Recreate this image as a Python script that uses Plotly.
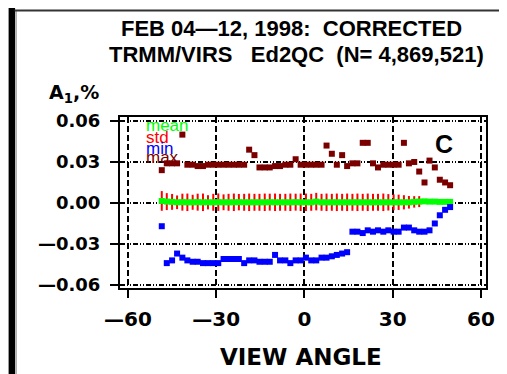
import plotly.graph_objects as go

# ---------------- data ----------------
angles = [-48.5, -46.8, -45.0, -43.3, -41.5, -39.8, -38.0, -36.3, -34.5, -32.8,
          -31.0, -29.3, -27.5, -25.8, -24.0, -22.3, -20.5, -18.8, -17.0, -15.3,
          -13.5, -11.8, -10.0, -8.3, -6.5, -4.8, -3.0, -1.3, 0.5, 2.3,
          4.0, 5.8, 7.5, 9.3, 11.0, 12.8, 14.5, 16.3, 18.0, 19.8,
          21.5, 23.3, 25.0, 26.8, 28.5, 30.3, 32.0, 33.8, 35.5, 37.3,
          39.0, 40.8, 42.5, 44.3, 46.0, 47.8, 49.5]

mean_vals = [0.0015, 0.0010, 0.0008, 0.0005, 0.0006, 0.0005, 0.0005, 0.0006, 0.0005, 0.0005,
             0.0005, 0.0006, 0.0005, 0.0005, 0.0005, 0.0006, 0.0005, 0.0005, 0.0005, 0.0005,
             0.0005, 0.0006, 0.0005, 0.0005, 0.0005, 0.0005, 0.0006, 0.0005, 0.0005, 0.0005,
             0.0010, 0.0005, 0.0005, 0.0005, 0.0005, 0.0005, 0.0005, 0.0005, 0.0005, 0.0005,
             0.0005, 0.0005, 0.0005, 0.0005, 0.0005, 0.0005, 0.0005, 0.0005, 0.0005, 0.0008,
             0.0010, 0.0012, 0.0010, 0.0010, 0.0008, 0.0008, 0.0008]

std_vals = [0.0072, 0.0062, 0.0058, 0.0050, 0.0062, 0.0064, 0.0055, 0.0062, 0.0064, 0.0052,
            0.0062, 0.0064, 0.0058, 0.0062, 0.0064, 0.0060, 0.0062, 0.0064, 0.0062, 0.0062,
            0.0064, 0.0062, 0.0064, 0.0062, 0.0062, 0.0064, 0.0062, 0.0064, 0.0064, 0.0062,
            0.0064, 0.0062, 0.0064, 0.0062, 0.0064, 0.0062, 0.0064, 0.0062, 0.0064, 0.0062,
            0.0064, 0.0062, 0.0062, 0.0064, 0.0060, 0.0058, 0.0056, 0.0052, 0.0046, 0.0042,
            0.0040, 0.0012, 0.0010, 0.0010, 0.0010, 0.0010, 0.0010]

min_vals = [-0.017, -0.044, -0.042, -0.037, -0.040, -0.042, -0.043, -0.043, -0.044, -0.044,
            -0.044, -0.044, -0.041, -0.041, -0.041, -0.041, -0.044, -0.042, -0.042, -0.043,
            -0.043, -0.043, -0.038, -0.042, -0.042, -0.044, -0.042, -0.042, -0.040, -0.042,
            -0.042, -0.040, -0.040, -0.039, -0.038, -0.037, -0.036, -0.021, -0.021, -0.022,
            -0.020, -0.021, -0.020, -0.021, -0.020, -0.021, -0.021, -0.018, -0.018, -0.020,
            -0.021, -0.021, -0.020, -0.015, -0.009, -0.005, -0.003]

max_vals = [0.024, 0.029, 0.029, 0.029, 0.050, 0.028, 0.028, 0.027, 0.027, 0.028,
            0.028, 0.028, 0.028, 0.028, 0.028, 0.028, 0.028, 0.039, 0.035, 0.026,
            0.026, 0.026, 0.027, 0.027, 0.028, 0.028, 0.032, 0.028, 0.028, 0.028,
            0.028, 0.028, 0.042, 0.036, 0.028, 0.035, 0.027, 0.029, 0.029, 0.044,
            0.044, 0.029, 0.026, 0.028, 0.028, 0.028, 0.028, 0.044, 0.029, 0.030,
            0.023, 0.015, 0.031, 0.026, 0.017, 0.015, 0.013]

x_ticks = [-60, -30, 0, 30, 60]
x_ticktext = ["<b>\u201460</b>", "<b>\u201430</b>", "<b>0</b>", "<b>30</b>", "<b>60</b>"]
y_ticks = [-0.06, -0.03, 0.0, 0.03, 0.06]
y_ticktext = ["<b>\u20140.06</b>", "<b>\u20140.03</b>", "<b>0.00</b>", "<b>0.03</b>", "<b>0.06</b>"]

legend_names = ["mean", "std", "min", "max"]
colors = {"mean": "#00ff00", "std": "#ff0000", "min": "#0000ff", "max": "#7a0000"}

# ---------------- layout geometry ----------------
# The page body keeps its default 8px margin, so the figure starts at screen (8, 8).
OFF = 8
W, H = 507 - OFF, 374 - OFF
SL, SR, ST, SB = 120, 488, 117, 288   # plot area in screen pixels
L, R, T, B = SL - OFF, SR - OFF, ST - OFF, SB - OFF


def px2x(sx):
    return (sx - OFF - L) / (R - L)


def py2y(sy):
    return (B - (sy - OFF)) / (B - T)


fig = go.Figure()

# std as vertical red ticks (error bars around mean)
fig.add_trace(go.Scatter(
    x=angles, y=mean_vals, mode="markers",
    marker=dict(size=1, color="rgba(0,0,0,0)"),
    error_y=dict(type="data", array=std_vals, visible=True,
                 color=colors["std"], thickness=2, width=0),
    showlegend=False, hoverinfo="skip"))

# mean
fig.add_trace(go.Scatter(
    x=angles, y=mean_vals, mode="lines+markers",
    line=dict(color=colors["mean"], width=4),
    marker=dict(symbol="square", size=6, color=colors["mean"]),
    showlegend=False))

# min
fig.add_trace(go.Scatter(
    x=angles, y=min_vals, mode="markers",
    marker=dict(symbol="square", size=6, color=colors["min"]),
    showlegend=False))

# max
fig.add_trace(go.Scatter(
    x=angles, y=max_vals, mode="markers",
    marker=dict(symbol="square", size=6, color=colors["max"]),
    showlegend=False))

fig.update_xaxes(
    range=[-62.7, 61.7], tickvals=x_ticks, ticktext=x_ticktext,
    ticks="outside", ticklen=8, tickwidth=2, tickcolor="black",
    showline=True, linecolor="black", linewidth=2, mirror=True,
    showgrid=True, gridcolor="black", gridwidth=1.5, griddash="6px,3px",
    zeroline=False, ticklabelstandoff=4,
    tickfont=dict(family="DejaVu Sans", size=20, color="black"))

fig.update_yaxes(
    range=[-0.0622, 0.0629], tickvals=y_ticks, ticktext=y_ticktext,
    ticks="outside", ticklen=8, tickwidth=2, tickcolor="black",
    showline=True, linecolor="black", linewidth=2, mirror=True,
    showgrid=True, gridcolor="black", gridwidth=1.5, griddash="5px,2px,1px,2px,1px,2px",
    zeroline=False, ticklabelstandoff=6,
    tickfont=dict(family="DejaVu Sans", size=18, color="black"))

annotations = []
annotations.append(dict(text="<b>FEB 04\u201412, 1998:  CORRECTED</b>", xref="paper", yref="paper",
                        x=px2x(292), y=py2y(28), showarrow=False, xanchor="center", yanchor="middle",
                        font=dict(family="Liberation Sans", size=22, color="black")))
annotations.append(dict(text="<b>TRMM/VIRS   Ed2QC  (N= 4,869,521)</b>", xref="paper", yref="paper",
                        x=px2x(297), y=py2y(55), showarrow=False, xanchor="center", yanchor="middle",
                        font=dict(family="Liberation Sans", size=22, color="black")))
annotations.append(dict(text="<b>VIEW ANGLE</b>", xref="paper", yref="paper",
                        x=px2x(302), y=py2y(357), showarrow=False, xanchor="center", yanchor="middle",
                        font=dict(family="DejaVu Sans", size=23, color="black")))
annotations.append(dict(text="<b>A<sub>1</sub>,%</b>", xref="paper", yref="paper",
                        x=px2x(47), y=py2y(93), showarrow=False, xanchor="left", yanchor="middle",
                        font=dict(family="DejaVu Sans", size=19, color="black")))
annotations.append(dict(text="<b>C</b>", xref="paper", yref="paper",
                        x=px2x(446), y=py2y(144), showarrow=False, xanchor="center", yanchor="middle",
                        font=dict(family="Liberation Sans", size=25, color="black")))
legend_py = [125, 137, 148, 157]
for name, py in zip(legend_names, legend_py):
    annotations.append(dict(text=name, xref="paper", yref="paper",
                            x=px2x(144), y=py2y(py), showarrow=False, xanchor="left", yanchor="middle",
                            font=dict(family="Liberation Sans", size=17, color=colors[name])))

shapes = [
    # black bar on the left
    dict(type="rect", xref="paper", yref="paper", x0=px2x(8), x1=px2x(14.5), y0=py2y(380), y1=py2y(8),
         fillcolor="black", line=dict(width=0)),
    dict(type="line", xref="paper", yref="paper", x0=px2x(15.5), x1=px2x(15.5), y0=py2y(380), y1=py2y(11),
         line=dict(color="#777777", width=1)),
    # lower line of the top double rule
    dict(type="line", xref="paper", yref="paper", x0=px2x(14), x1=px2x(510), y0=py2y(10.5), y1=py2y(10.5),
         line=dict(color="#333333", width=2)),
]

fig.update_layout(
    width=W, height=H, autosize=False,
    margin=dict(l=L, r=W - R, t=T, b=H - B, pad=0),
    paper_bgcolor="white", plot_bgcolor="white",
    showlegend=False, annotations=annotations, shapes=shapes,
)

fig.write_html("out.html")
